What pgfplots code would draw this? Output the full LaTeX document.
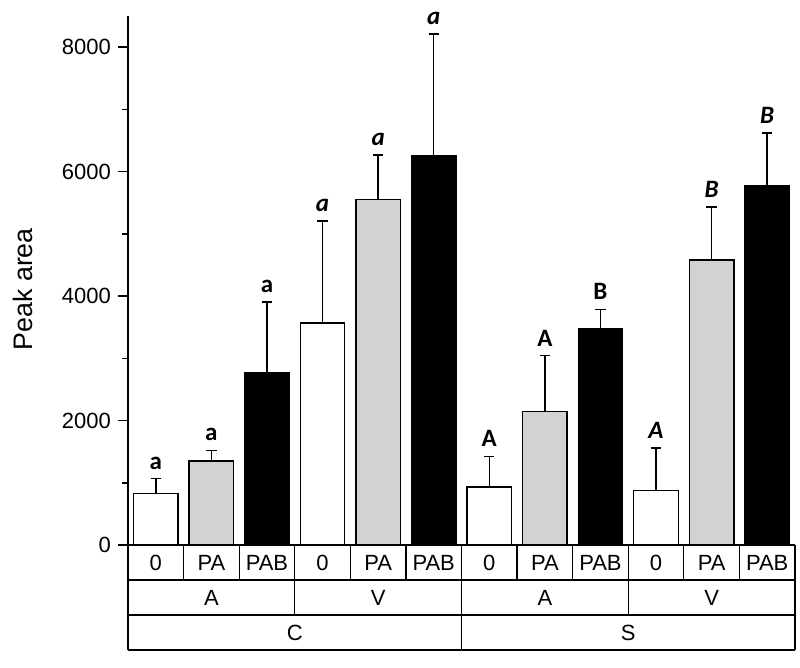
\documentclass[border=0pt]{standalone}
\usepackage{pgfplots}
\pgfplotsset{compat=1.18}
\usepackage{fontspec}
\setmainfont{Liberation Sans}
\newfontfamily\carl{Carlito}
\definecolor{barGray}{RGB}{210,210,210}
\begin{document}
\begin{tikzpicture}
\begin{axis}[
  name=main,
  scale only axis,
  width=333.5pt, height=317pt,
  xmin=-0.5, xmax=11.5,
  ymin=-1687, ymax=8500,
  clip=false,
  axis lines*=left,
  axis line style={line width=0.75pt},
  xtick=\empty,
  ytick={0,2000,4000,6000,8000},
  minor ytick={1000,3000,5000,7000},
  tick align=outside,
  major tick length=5pt,
  minor tick length=3pt,
  tick style={line width=0.75pt, black},
  scaled y ticks=false,
  /pgf/number format/1000 sep={},
  /pgf/number format/assume math mode=true,
  yticklabel style={font=\fontsize{11}{13}\selectfont},
  ylabel={Peak area},
  ylabel style={at={(axis description cs:-0.157,0.569)}, anchor=center, font=\fontsize{13.4}{16}\selectfont},
  every axis plot/.append style={
    error bars/error bar style={line width=0.75pt, black},
    error bars/error mark options={rotate=90, black, mark size=2.6pt, line width=0.75pt}},
]
% white bars (0)
\addplot[ybar, bar width=0.8, bar shift=0pt, fill=white, draw=black, line width=0.65pt,
  error bars/.cd, y dir=plus, y explicit]
coordinates {(0,827) +- (0,238) (3,3566) +- (0,1644) (6,932) +- (0,492) (9,878) +- (0,680)};
% gray bars (PA)
\addplot[ybar, bar width=0.8, bar shift=0pt, fill=barGray, draw=black, line width=0.65pt,
  error bars/.cd, y dir=plus, y explicit]
coordinates {(1,1351) +- (0,168) (4,5553) +- (0,712) (7,2142) +- (0,899) (10,4578) +- (0,857)};
% black bars (PAB)
\addplot[ybar, bar width=0.8, bar shift=0pt, fill=black, draw=black, line width=0.65pt,
  error bars/.cd, y dir=plus, y explicit]
coordinates {(2,2763) +- (0,1141) (5,6254) +- (0,1955) (8,3470) +- (0,316) (11,5772) +- (0,846)};

% significance letters
\begin{scope}[every node/.style={anchor=south, inner sep=0pt, yshift=4.5pt, font=\carl\bfseries\fontsize{12.5}{14}\selectfont}]
\node at (axis cs:0,1065) {a};
\node at (axis cs:1,1519) {a};
\node at (axis cs:2,3904) {a};
\node at (axis cs:3,5210) {\itshape a};
\node at (axis cs:4,6265) {\itshape a};
\node at (axis cs:5,8209) {\itshape a};
\node at (axis cs:6,1424) {A};
\node at (axis cs:7,3041) {A};
\node at (axis cs:8,3786) {B};
\node at (axis cs:9,1558) {\itshape A};
\node at (axis cs:10,5435) {\itshape B};
\node at (axis cs:11,6618) {\itshape B};
\end{scope}

% category table
\begin{scope}[line width=0.6pt]
\draw (axis cs:-0.5,0) -- (axis cs:11.5,0);
\draw (axis cs:-0.5,-562) -- (axis cs:11.5,-562);
\draw (axis cs:-0.5,-1124) -- (axis cs:11.5,-1124);
\draw (axis cs:0.5,0) -- (axis cs:0.5,-562);
\draw (axis cs:1.5,0) -- (axis cs:1.5,-562);
\draw (axis cs:3.5,0) -- (axis cs:3.5,-562);
\draw (axis cs:4.5,0) -- (axis cs:4.5,-562);
\draw (axis cs:6.5,0) -- (axis cs:6.5,-562);
\draw (axis cs:7.5,0) -- (axis cs:7.5,-562);
\draw (axis cs:9.5,0) -- (axis cs:9.5,-562);
\draw (axis cs:10.5,0) -- (axis cs:10.5,-562);
\draw (axis cs:2.5,0) -- (axis cs:2.5,-1124);
\draw (axis cs:8.5,0) -- (axis cs:8.5,-1124);
\draw (axis cs:5.5,0) -- (axis cs:5.5,-1687);
\draw (axis cs:11.5,0) -- (axis cs:11.5,-1687);
\end{scope}
\begin{scope}[every node/.style={anchor=center, inner sep=0pt, font=\fontsize{11}{13}\selectfont}]
\node at (axis cs:0,-281) {0};
\node at (axis cs:1,-281) {PA};
\node at (axis cs:2,-281) {PAB};
\node at (axis cs:3,-281) {0};
\node at (axis cs:4,-281) {PA};
\node at (axis cs:5,-281) {PAB};
\node at (axis cs:6,-281) {0};
\node at (axis cs:7,-281) {PA};
\node at (axis cs:8,-281) {PAB};
\node at (axis cs:9,-281) {0};
\node at (axis cs:10,-281) {PA};
\node at (axis cs:11,-281) {PAB};
\node at (axis cs:1,-843) {A};
\node at (axis cs:4,-843) {V};
\node at (axis cs:7,-843) {A};
\node at (axis cs:10,-843) {V};
\node at (axis cs:2.5,-1405) {C};
\node at (axis cs:8.5,-1405) {S};
\end{scope}
\end{axis}
\pgfresetboundingbox
\path[use as bounding box] (-64pt,-9pt) rectangle (336pt,325pt);
\end{tikzpicture}
\end{document}
